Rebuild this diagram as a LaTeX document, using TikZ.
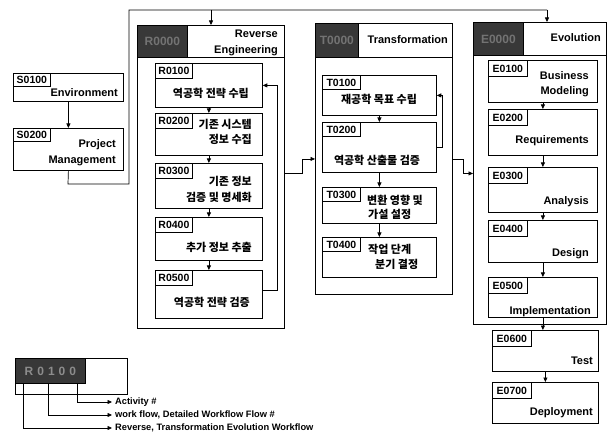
\documentclass[tikz,border=0pt]{standalone}
\usepackage{fontspec}
\setmainfont{Liberation Sans}
\newfontfamily\kr{Noto Sans CJK KR}
\usetikzlibrary{arrows.meta}
\tikzset{
  box/.style={draw, line width=0.8pt, inner sep=0pt, anchor=north west},
  grp/.style={draw, line width=0.9pt, inner sep=0pt, anchor=north west},
  idbox/.style={draw, line width=0.8pt, anchor=north west, inner sep=0.5pt,
    font=\bfseries\fontsize{10.5}{11}\selectfont, minimum height=15pt, minimum width=37pt},
  hdr/.style={fill=black!78, draw=black, line width=0.8pt, anchor=north west, inner sep=0pt,
    text=black!55, font=\bfseries\fontsize{12}{12}\selectfont},
  en/.style={font=\bfseries\fontsize{11}{13}\selectfont, inner sep=0pt},
  ko/.style={font=\kr\bfseries\fontsize{11}{14}\selectfont, inner sep=0pt},
  lg/.style={font=\bfseries\fontsize{9.3}{11}\selectfont, inner sep=3pt, anchor=west},
  arr/.style={-{Triangle[length=4.5pt,width=4pt]}, line width=0.7pt},
  ln/.style={line width=0.7pt},
}
\begin{document}
\begin{tikzpicture}[x=1pt,y=-1pt]
\useasboundingbox[fill=white] (0,0) rectangle (614,433);

% ---------- S column ----------
\node[box, minimum width=110pt, minimum height=28pt] (s1) at (13,73) {};
\node[idbox, minimum height=13pt] (s1id) at (s1.north west) {S0100};
\node[en, anchor=base east] (s1t) at (118,97) {Environment};
\node[box, minimum width=110pt, minimum height=42pt] (s2) at (13,128) {};
\node[idbox, minimum height=13pt] (s2id) at (s2.north west) {S0200};
\node[en, anchor=base east] (s2t1) at (116,148) {Project};
\node[en, anchor=base east] (s2t2) at (116,164) {Management};
\draw[arr] (s1) -- (s2);

% ---------- R group ----------
\node[grp, minimum width=147pt, minimum height=303pt] (Rg) at (137,25) {};
\node[hdr, minimum width=50pt, minimum height=32pt] (Rh) at (137,25) {R0000};
\draw[ln] (Rh.south west) -- (Rh.south west -| Rg.east);
\node[en, anchor=base east] (Rt1) at (278,38) {Reverse};
\node[en, anchor=base east] (Rt2) at (278,54) {Engineering};

\node[box, minimum width=107pt, minimum height=44pt] (r1) at (155,63) {};
\node[idbox] (r1id) at (r1.north west) {R0100};
\node[ko, anchor=east] (r1t) at (249,93) {역공학 전략 수립};

\node[box, minimum width=107pt, minimum height=42pt] (r2) at (155,113) {};
\node[idbox] (r2id) at (r2.north west) {R0200};
\node[ko, anchor=east] (r2t1) at (252,124) {기존 시스템};
\node[ko, anchor=east] (r2t2) at (252,139) {정보 수집};

\node[box, minimum width=107pt, minimum height=45pt] (r3) at (155,163) {};
\node[idbox] (r3id) at (r3.north west) {R0300};
\node[ko, anchor=east] (r3t1) at (252,181) {기존 정보};
\node[ko, anchor=east] (r3t2) at (252,197) {검증 및 명세화};

\node[box, minimum width=107pt, minimum height=43pt] (r4) at (155,217) {};
\node[idbox] (r4id) at (r4.north west) {R0400};
\node[ko, anchor=east] (r4t) at (252,247) {추가 정보 추출};

\node[box, minimum width=107pt, minimum height=48pt] (r5) at (155,270) {};
\node[idbox] (r5id) at (r5.north west) {R0500};
\node[ko, anchor=east] (r5t) at (250,302) {역공학 전략 검증};

\draw[arr] (r1) -- (r2);
\draw[arr] (r2) -- (r3);
\draw[arr] (r3) -- (r4);
\draw[arr] (r4) -- (r5);
\draw[arr] ([yshift=4pt]r5.east) -- ++(15,0) |- (r1.east);

% ---------- T group ----------
\node[grp, minimum width=137pt, minimum height=271pt] (Tg) at (315,23) {};
\node[hdr, minimum width=43pt, minimum height=34pt] (Th) at (315,23) {T0000};
\draw[ln] (Th.south west) -- (Th.south west -| Tg.east);
\node[en, anchor=base east] (Tt) at (448,44) {Transformation};

\node[box, minimum width=114pt, minimum height=40pt] (t1) at (322,75) {};
\node[idbox, minimum width=38pt, minimum height=14pt] (t1id) at (t1.north west) {T0100};
\node[ko] (t1t) at (379,99) {재공학 목표 수립};

\node[box, minimum width=114pt, minimum height=50pt] (t2) at (322,122) {};
\node[idbox, minimum width=38pt, minimum height=14pt] (t2id) at (t2.north west) {T0200};
\node[ko] (t2t) at (377,160) {역공학 산출물 검증};

\node[box, minimum width=114pt, minimum height=36pt] (t3) at (322,187) {};
\node[idbox, minimum width=38pt, minimum height=14pt] (t3id) at (t3.north west) {T0300};
\node[ko, anchor=west] (t3t1) at (367,200) {변환 영향 및};
\node[ko, anchor=west] (t3t2) at (368,214) {가설 설정};

\node[box, minimum width=114pt, minimum height=40pt] (t4) at (322,237) {};
\node[idbox, minimum width=38pt, minimum height=14pt] (t4id) at (t4.north west) {T0400};
\node[ko, anchor=west] (t4t1) at (368,249) {작업 단계};
\node[ko, anchor=west] (t4t2) at (375,264) {분기 결정};

\draw[arr] (t1) -- (t2);
\draw[arr] (t2) -- (t3);
\draw[arr] (t3) -- (t4);
\draw[arr] (t2.east) -- ++(6,0) |- (t1.east);

% ---------- E group ----------
\node[grp, minimum width=133pt, minimum height=302pt] (Eg) at (473,22) {};
\node[hdr, minimum width=50pt, minimum height=33pt] (Eh) at (473,22) {E0000};
\draw[ln] (Eh.south west) -- (Eh.south west -| Eg.east);
\node[en, anchor=base east] (Et) at (601,42) {Evolution};

\node[box, minimum width=109pt, minimum height=42pt] (e1) at (488,60) {};
\node[idbox, minimum width=39pt, minimum height=16pt] (e1id) at (e1.north west) {E0100};
\node[en, anchor=base east] (e1t1) at (589,80) {Business};
\node[en, anchor=base east] (e1t2) at (589,95) {Modeling};

\node[box, minimum width=109pt, minimum height=46pt] (e2) at (488,109) {};
\node[idbox, minimum width=39pt, minimum height=16pt] (e2id) at (e2.north west) {E0200};
\node[en, anchor=base east] (e2t) at (589,144) {Requirements};

\node[box, minimum width=109pt, minimum height=45pt] (e3) at (488,167) {};
\node[idbox, minimum width=39pt, minimum height=16pt] (e3id) at (e3.north west) {E0300};
\node[en, anchor=base east] (e3t) at (589,205) {Analysis};

\node[box, minimum width=109pt, minimum height=42pt] (e4) at (488,220) {};
\node[idbox, minimum width=39pt, minimum height=16pt] (e4id) at (e4.north west) {E0400};
\node[en, anchor=base east] (e4t) at (589,257) {Design};

\node[box, minimum width=109pt, minimum height=40pt] (e5) at (488,277) {};
\node[idbox, minimum width=39pt, minimum height=16pt] (e5id) at (e5.north west) {E0500};
\node[en, anchor=base east] (e5t) at (591,314) {Implementation};

\node[box, minimum width=106pt, minimum height=41pt] (e6) at (492,330) {};
\node[idbox, minimum width=39pt, minimum height=16pt] (e6id) at (e6.north west) {E0600};
\node[en, anchor=base east] (e6t) at (593,364) {Test};

\node[box, minimum width=106pt, minimum height=41pt] (e7) at (492,382) {};
\node[idbox, minimum width=39pt, minimum height=16pt] (e7id) at (e7.north west) {E0700};
\node[en, anchor=base east] (e7t) at (593,415) {Deployment};

\draw[arr] (e1) -- (e2);
\draw[arr] (e2) -- (e3);
\draw[arr] (e3) -- (e4);
\draw[arr] (e4) -- (e5);
\draw[arr] (e5.south) -- (e5.south |- e6.north);
\draw[arr] (e6.south) -- (e6.south |- e7.north);

% ---------- connectors between groups ----------
\coordinate (sdown) at (68,184);
\coordinate (sright) at (129,184);
\coordinate (topL) at (129,10);
\coordinate (topM) at (211,10);
\coordinate (topR) at (547,10);
\draw[ln] (s2.south) -- (sdown) -- (sright) -- (topL) -- (topR);
\draw[arr] (topR) -- (topR |- Eg.north);
\draw[arr] (topM) -- (topM |- Rg.north);
\draw[arr] ([yshift=3.5pt]Rg.east) -- ++(17,0) |- (Tg.west);
\draw[arr] (Tg.east) -- ++(10,0) |- (Eg.west);

% ---------- legend ----------
\node[box, minimum width=112pt, minimum height=36pt] (lgbox) at (15,358) {};
\node[hdr, minimum width=70pt, minimum height=25pt, text=black!45] (lgdark) at (15,358) {R\,\,0\,\,1\,\,0\,\,0};
\node[lg] (lg1) at (112,402) {Activity \#};
\node[lg] (lg2) at (112,415) {work flow, Detailed Workflow Flow \#};
\node[lg] (lg3) at (112,428) {Reverse, Transformation Evolution Workflow};
\coordinate (lga) at (77,383);
\coordinate (lgb) at (48,383);
\coordinate (lgc) at (23,383);
\draw[arr] (lga) |- (lg1.west);
\draw[arr] (lgb) |- (lg2.west);
\draw[arr] (lgc) |- (lg3.west);
\end{tikzpicture}
\end{document}
